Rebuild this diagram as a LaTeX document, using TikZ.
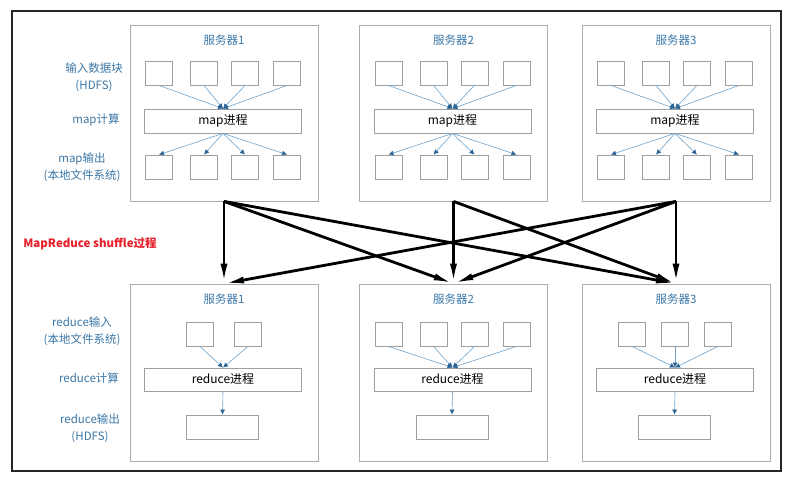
\documentclass[tikz,border=0pt]{standalone}
\usepackage{fontspec}
\setmainfont{Noto Sans CJK SC}
\usetikzlibrary{arrows.meta,positioning}
\definecolor{srvblue}{HTML}{3C78A8}
\definecolor{flowblue}{HTML}{6FA3CC}
\definecolor{tipblue}{HTML}{2A6496}
\definecolor{shufred}{HTML}{E8202A}

\begin{document}
\begin{tikzpicture}[x=1pt,y=-1pt,
  server/.style={draw=gray!65,line width=0.8pt,minimum width=188pt,inner sep=0pt},
  blk/.style={draw=gray!75,line width=0.8pt,minimum width=27pt,minimum height=24pt,inner sep=0pt},
  proc/.style={draw=gray!75,line width=0.8pt,minimum width=157pt,minimum height=24pt,inner sep=0pt,
               font=\fontsize{12}{14}\selectfont},
  res/.style={blk,minimum width=72pt},
  title/.style={text=srvblue,font=\fontsize{11.5}{13}\selectfont,inner sep=1pt},
  lbl/.style={text=srvblue,align=center,font=\fontsize{11.5}{17}\selectfont,inner sep=1pt},
  flow/.style={flowblue,line width=0.6pt,-{Latex[length=5pt,width=5pt,color=tipblue]}},
  shuffle/.style={black,line width=2.8pt,-{Latex[length=20pt,width=7pt]}}]
  \fill[white] (0,0) rectangle (794,479);
  \useasboundingbox (0,0) rectangle (794,479);
  \draw[gray!30!black,line width=2.2pt] (12,11) rectangle (781,471);

  % map side
  \foreach \i/\cx in {1/224,2/453.5,3/676} {
    \node[server,minimum height=176pt] (t\i) at (\cx,113) {};
    \node[title] (tt\i) at (\cx,40) {服务器\i};
    \node[proc] (map\i) at (\cx-1,121) {map进程};
    \foreach \dx [count=\j] in {-65,-20,21,63} {
      \node[blk] (in\i\j) at (\cx+\dx,73) {};
      \node[blk] (out\i\j) at (\cx+\dx,167) {};
      \draw[flow] (in\i\j.south) -- (map\i.north);
      \draw[flow] (map\i.south) -- (out\i\j.north);
    }
  }

  % reduce side
  \foreach \i/\cx/\lst in {1/224/{-24,24},2/453.5/{-65,-20,21,63},3/676/{-44,-1,42}} {
    \node[server,minimum height=177pt] (b\i) at (\cx,372.5) {};
    \node[title] (bt\i) at (\cx,299) {服务器\i};
    \node[proc,minimum height=23pt] (red\i) at (\cx-1,379.5) {reduce进程};
    \node[res] (rout\i) at (\cx-1.5,427) {};
    \draw[flow] (red\i.south) -- (rout\i.north);
    \foreach \dx [count=\j] in \lst {
      \node[blk] (rin\i\j) at (\cx+\dx,334) {};
      \draw[flow] (rin\i\j.south) -- (red\i.north);
    }
  }

  % row labels
  \node[lbl] (lin) at (94,77.5) {输入数据块\\(HDFS)};
  \node[lbl] (lmap) at (96,120) {map计算};
  \node[lbl] (lout) at (82,167.5) {map输出\\(本地文件系统)};
  \node[lbl] (lrin) at (82,331) {reduce输入\\(本地文件系统)};
  \node[lbl] (lrcalc) at (89,378) {reduce计算};
  \node[lbl] (lrout) at (90,428) {reduce输出\\(HDFS)};
  \node[text=shufred,font=\fontsize{11.5}{13}\selectfont\bfseries] (lshuf) at (90,244) {MapReduce shuffle过程};

  % shuffle
  \foreach \a/\b in {1/1,1/2,1/3,2/2,2/3,3/1,3/2,3/3}
    \draw[shuffle] (t\a.south) -- (b\b.north);
\end{tikzpicture}
\end{document}
